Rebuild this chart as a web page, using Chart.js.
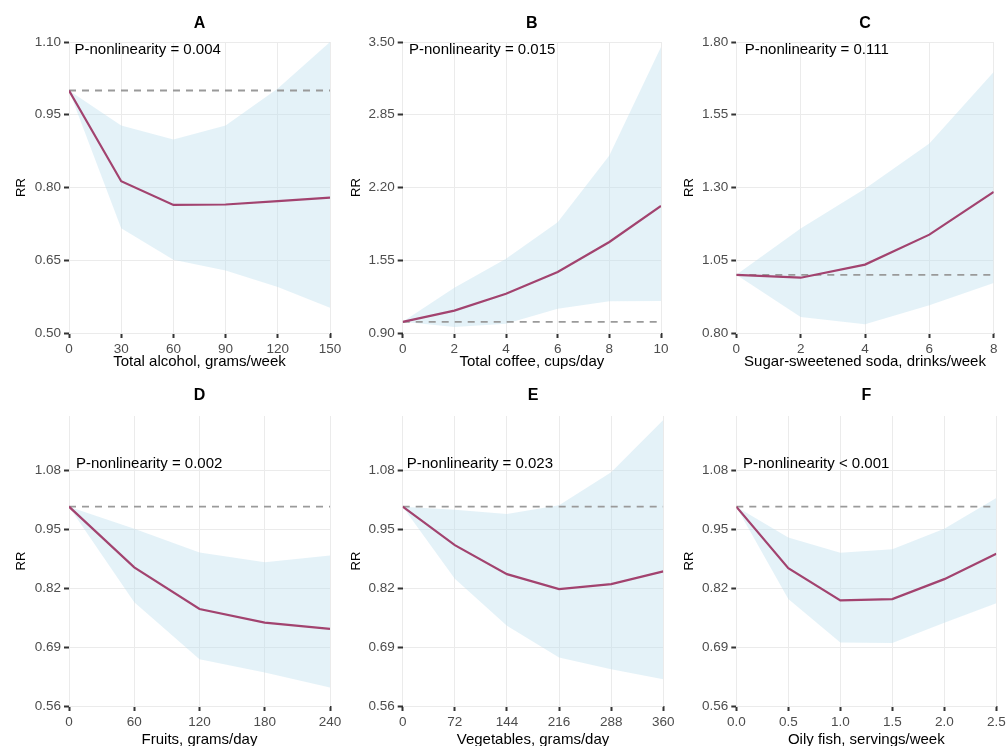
<!DOCTYPE html>
<html>
<head>
<meta charset="utf-8">
<title>RR dose-response panels</title>
<script src="https://cdn.jsdelivr.net/npm/chart.js@4.4.1/dist/chart.umd.min.js"></script>
<style>
  html, body { margin: 0; padding: 0; background: #fff; overflow: hidden; width: 1007px; height: 746px; }
  .panel { position: absolute; }
</style>
</head>
<body>
<div class="panel" style="left:0px;top:0px"><canvas id="cA"></canvas></div>
<div class="panel" style="left:335px;top:0px"><canvas id="cB"></canvas></div>
<div class="panel" style="left:668px;top:0px"><canvas id="cC"></canvas></div>
<div class="panel" style="left:0px;top:373px"><canvas id="cD"></canvas></div>
<div class="panel" style="left:335px;top:373px"><canvas id="cE"></canvas></div>
<div class="panel" style="left:668px;top:373px"><canvas id="cF"></canvas></div>

<script>
/* ============== Data ============== */

const referenceRR = 1;

// A - total alcohol
const alcoholX = [0, 30, 60, 90, 120, 150];
const alcoholRR = [1.00, 0.813, 0.764, 0.765, 0.772, 0.779];
const alcoholUpper = [1.00, 0.928, 0.899, 0.928, 1.004, 1.10];
const alcoholLower = [1.00, 0.716, 0.651, 0.629, 0.595, 0.552];
const alcoholXTicks = [0, 30, 60, 90, 120, 150];
const alcoholYTicks = [0.50, 0.65, 0.80, 0.95, 1.10];

// B - total coffee
const coffeeX = [0, 2, 4, 6, 8, 10];
const coffeeRR = [1.00, 1.10, 1.25, 1.445, 1.713, 2.035];
const coffeeUpper = [1.00, 1.305, 1.564, 1.89, 2.487, 3.455];
const coffeeLower = [1.00, 0.954, 0.983, 1.117, 1.183, 1.186];
const coffeeXTicks = [0, 2, 4, 6, 8, 10];
const coffeeYTicks = [0.90, 1.55, 2.20, 2.85, 3.50];

// C - sugar-sweetened soda
const sodaX = [0, 2, 4, 6, 8];
const sodaRR = [1.00, 0.99, 1.035, 1.138, 1.285];
const sodaUpper = [1.00, 1.159, 1.296, 1.451, 1.697];
const sodaLower = [1.00, 0.855, 0.830, 0.895, 0.972];
const sodaXTicks = [0, 2, 4, 6, 8];
const sodaYTicks = [0.80, 1.05, 1.30, 1.55, 1.80];

// D - fruits
const fruitX = [0, 60, 120, 180, 240];
const fruitRR = [1.00, 0.866, 0.774, 0.744, 0.730];
const fruitUpper = [1.00, 0.951, 0.899, 0.877, 0.892];
const fruitLower = [1.00, 0.789, 0.663, 0.634, 0.601];
const fruitXTicks = [0, 60, 120, 180, 240];

// E - vegetables
const vegX = [0, 72, 144, 216, 288, 360];
const vegRR = [1.00, 0.915, 0.851, 0.818, 0.829, 0.857];
const vegUpper = [1.00, 0.993, 0.984, 1.003, 1.076, 1.191];
const vegLower = [1.00, 0.841, 0.737, 0.667, 0.641, 0.619];
const vegXTicks = [0, 72, 144, 216, 288, 360];

// F - oily fish
const fishX = [0, 0.5, 1.0, 1.5, 2.0, 2.5];
const fishRR = [1.00, 0.864, 0.793, 0.796, 0.840, 0.896];
const fishUpper = [1.00, 0.932, 0.898, 0.906, 0.951, 1.019];
const fishLower = [1.00, 0.796, 0.700, 0.699, 0.744, 0.787];
const fishXTicks = [0, 0.5, 1.0, 1.5, 2.0, 2.5];

// bottom row shares the y axis
const bottomYTicks = [0.56, 0.69, 0.82, 0.95, 1.08];
const bottomYMax = 1.20;


/* ============== Styling ============== */

const FONT = '"Liberation Sans", Arial, sans-serif';
const RIBBON = 'rgba(188, 222, 238, 0.4)';
const LINE = '#a2436f';
const GRID = '#ebebeb';
const TICK_TEXT = '#4d4d4d';

/**
 * Draws the panel letter and the P-nonlinearity note relative to the chart area.
 */
const panelText = {
    id: 'panelText',
    afterDraw(chart, args, opts) {
        const ctx = chart.ctx;
        const area = chart.chartArea;
        ctx.save();
        ctx.fillStyle = '#000';
        ctx.textBaseline = 'middle';
        ctx.textAlign = 'center';
        ctx.font = 'bold 16px ' + FONT;
        ctx.fillText(opts.title, (area.left + area.right) / 2, area.top - opts.titleGap);
        ctx.textAlign = 'left';
        ctx.font = '15px ' + FONT;
        ctx.fillText(opts.note, area.left + opts.noteDx, area.top + opts.noteDy);
        ctx.restore();
    }
};

/**
 * Zips x values with y values into {x, y} points.
 */
function toPoints(xs, ys) {
    return xs.map((x, i) => ({x: x, y: ys[i]}));
}

/**
 * Builds one panel chart. The geometry object pins the plot area in canvas pixels.
 */
function makePanel(canvasId, p) {
    const canvas = document.getElementById(canvasId);
    canvas.width = p.width;
    canvas.height = p.height;
    canvas.style.width = p.width + 'px';
    canvas.style.height = p.height + 'px';

    const xMin = p.xTicks[0];
    const xMax = p.xTicks[p.xTicks.length - 1];

    return new Chart(canvas, {
        type: 'line',
        data: {
            datasets: [
                {   // upper CI, filled down to the lower CI
                    data: toPoints(p.x, p.upper),
                    borderWidth: 0,
                    pointRadius: 0,
                    backgroundColor: RIBBON,
                    fill: '+1',
                    order: 3
                },
                {
                    data: toPoints(p.x, p.lower),
                    borderWidth: 0,
                    pointRadius: 0,
                    fill: false,
                    order: 3
                },
                {
                    data: [{x: xMin, y: referenceRR}, {x: xMax, y: referenceRR}],
                    borderColor: '#9a9a9a',
                    borderWidth: 1.8,
                    borderDash: [7, 6],
                    pointRadius: 0,
                    fill: false,
                    order: 2
                },
                {
                    data: toPoints(p.x, p.rr),
                    borderColor: LINE,
                    borderWidth: 2.2,
                    pointRadius: 0,
                    fill: false,
                    order: 1
                }
            ]
        },
        options: {
            responsive: false,
            animation: false,
            devicePixelRatio: 1,
            layout: {
                padding: {left: 0, top: p.area.t, right: p.width - p.area.r, bottom: 0}
            },
            plugins: {
                legend: {display: false},
                tooltip: {enabled: false},
                panelText: {
                    title: p.title,
                    note: p.note,
                    titleGap: p.titleGap,
                    noteDx: p.noteDx,
                    noteDy: p.noteDy
                }
            },
            scales: {
                x: {
                    type: 'linear',
                    min: xMin,
                    max: xMax,
                    border: {display: false},
                    grid: {color: GRID, lineWidth: 1, tickColor: '#333', tickLength: 5, tickWidth: 2},
                    ticks: {
                        autoSkip: false,
                        maxRotation: 0,
                        padding: 3,
                        color: TICK_TEXT,
                        font: {family: FONT, size: 13.5},
                        callback: v => v.toFixed(p.xDecimals)
                    },
                    afterBuildTicks: scale => {
                        scale.ticks = p.xTicks.map(v => ({value: v}));
                    },
                    afterFit: scale => {
                        scale.height = p.height - p.area.b;
                        scale.paddingLeft = 0;
                        scale.paddingRight = 0;
                    },
                    title: {
                        display: true,
                        text: p.xTitle,
                        color: '#000',
                        font: {family: FONT, size: 15},
                        padding: {top: 0, bottom: p.xTitlePad}
                    }
                },
                y: {
                    type: 'linear',
                    min: p.yTicks[0],
                    max: p.yMax,
                    border: {display: false},
                    grid: {color: GRID, lineWidth: 1, tickColor: '#333', tickLength: 5, tickWidth: 2},
                    ticks: {
                        padding: 3,
                        color: TICK_TEXT,
                        font: {family: FONT, size: 13.5},
                        callback: v => v.toFixed(2)
                    },
                    afterBuildTicks: scale => {
                        scale.ticks = p.yTicks.map(v => ({value: v}));
                    },
                    afterFit: scale => {
                        scale.width = p.area.l;
                        scale.paddingTop = 0;
                        scale.paddingBottom = 0;
                    },
                    title: {
                        display: true,
                        text: 'RR',
                        color: '#000',
                        font: {family: FONT, size: 13},
                        padding: {top: 13.5, bottom: 0}
                    }
                }
            }
        },
        plugins: [panelText]
    });
}


/* ============== Render the six panels ============== */

makePanel('cA', {
    title: 'A', note: 'P-nonlinearity = 0.004', xTitle: 'Total alcohol, grams/week',
    x: alcoholX, rr: alcoholRR, upper: alcoholUpper, lower: alcoholLower,
    xTicks: alcoholXTicks, yTicks: alcoholYTicks, yMax: 1.10, xDecimals: 0,
    width: 345, height: 373, area: {l: 69, r: 330, t: 42, b: 333},
    xTitlePad: 2, titleGap: 18.5, noteDx: 5.5, noteDy: 8
});

makePanel('cB', {
    title: 'B', note: 'P-nonlinearity = 0.015', xTitle: 'Total coffee, cups/day',
    x: coffeeX, rr: coffeeRR, upper: coffeeUpper, lower: coffeeLower,
    xTicks: coffeeXTicks, yTicks: coffeeYTicks, yMax: 3.50, xDecimals: 0,
    width: 345, height: 373, area: {l: 67.7, r: 326, t: 42, b: 333},
    xTitlePad: 2, titleGap: 18.5, noteDx: 6.3, noteDy: 8
});

makePanel('cC', {
    title: 'C', note: 'P-nonlinearity = 0.111', xTitle: 'Sugar-sweetened soda, drinks/week',
    x: sodaX, rr: sodaRR, upper: sodaUpper, lower: sodaLower,
    xTicks: sodaXTicks, yTicks: sodaYTicks, yMax: 1.80, xDecimals: 0,
    width: 339, height: 373, area: {l: 68.3, r: 325.7, t: 42, b: 333},
    xTitlePad: 2, titleGap: 18.5, noteDx: 8.4, noteDy: 8
});

makePanel('cD', {
    title: 'D', note: 'P-nonlinearity = 0.002', xTitle: 'Fruits, grams/day',
    x: fruitX, rr: fruitRR, upper: fruitUpper, lower: fruitLower,
    xTicks: fruitXTicks, yTicks: bottomYTicks, yMax: bottomYMax, xDecimals: 0,
    width: 345, height: 380, area: {l: 69, r: 330, t: 43, b: 333},
    xTitlePad: 4, titleGap: 20, noteDx: 7, noteDy: 48
});

makePanel('cE', {
    title: 'E', note: 'P-nonlinearity = 0.023', xTitle: 'Vegetables, grams/day',
    x: vegX, rr: vegRR, upper: vegUpper, lower: vegLower,
    xTicks: vegXTicks, yTicks: bottomYTicks, yMax: bottomYMax, xDecimals: 0,
    width: 345, height: 380, area: {l: 67.7, r: 328.3, t: 43, b: 333},
    xTitlePad: 4, titleGap: 20, noteDx: 4, noteDy: 48
});

makePanel('cF', {
    title: 'F', note: 'P-nonlinearity < 0.001', xTitle: 'Oily fish, servings/week',
    x: fishX, rr: fishRR, upper: fishUpper, lower: fishLower,
    xTicks: fishXTicks, yTicks: bottomYTicks, yMax: bottomYMax, xDecimals: 1,
    width: 339, height: 380, area: {l: 68.3, r: 328.3, t: 43, b: 333},
    xTitlePad: 4, titleGap: 20, noteDx: 6.7, noteDy: 48
});
</script>
</body>
</html>
